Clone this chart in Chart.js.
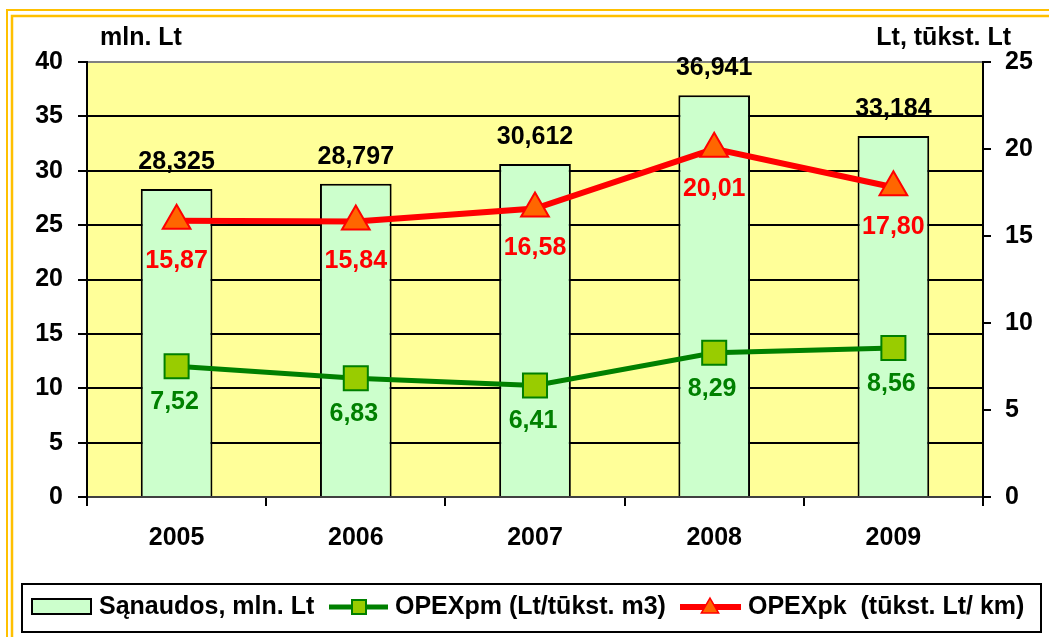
<!DOCTYPE html>
<html>
<head>
<meta charset="utf-8">
<script src="https://cdn.jsdelivr.net/npm/chart.js@4.4.1/dist/chart.umd.min.js"></script>
<style>
    html, body { margin: 0; padding: 0; background: #fff; }
    #wrap { width: 1049px; height: 637px; }
</style>
</head>
<body>
<div id="wrap"><canvas id="opexChart" width="1049" height="637"></canvas></div>
<script>
// Data
const years = ['2005', '2006', '2007', '2008', '2009'];
const costs = [28.325, 28.797, 30.612, 36.941, 33.184];
const opexPm = [7.52, 6.83, 6.41, 8.29, 8.56];
const opexPk = [15.87, 15.84, 16.58, 20.01, 17.80];
const seriesNames = ['Sąnaudos, mln. Lt', 'OPEXpm (Lt/tūkst. m3)', 'OPEXpk  (tūkst. Lt/ km)'];
const leftTitle = 'mln. Lt';
const rightTitle = 'Lt, tūkst. Lt';

const FONT = '"Liberation Sans", Arial, sans-serif';
const tickFont = { family: FONT, size: 25, weight: 'bold' };

const comma = (v, d) => v.toFixed(d).replace('.', ',');

// Background, gold double frame and yellow plot area
const backdrop = {
    id: 'backdrop',
    beforeDraw(chart) {
        const { ctx, chartArea: a } = chart;
        ctx.save();
        ctx.fillStyle = '#fff';
        ctx.fillRect(0, 0, chart.width, chart.height);
        ctx.strokeStyle = '#FFC000';
        ctx.lineWidth = 2;
        ctx.strokeRect(7, 10, 1100, 700);
        ctx.lineWidth = 2.5;
        ctx.strokeRect(12, 16, 1100, 700);
        ctx.fillStyle = '#FFFF99';
        ctx.fillRect(a.left, a.top, a.right - a.left, a.bottom - a.top);
        ctx.restore();
    }
};

// Value labels next to bars and points
const valueLabels = {
    id: 'valueLabels',
    afterDatasetsDraw(chart) {
        const ctx = chart.ctx;
        ctx.save();
        ctx.font = `bold 25px ${FONT}`;
        ctx.textAlign = 'center';

        ctx.fillStyle = '#000';
        ctx.textBaseline = 'alphabetic';
        chart.getDatasetMeta(0).data.forEach((bar, i) => {
            ctx.fillText(comma(costs[i], 3), bar.x, bar.y - 20);
        });

        ctx.textBaseline = 'middle';
        ctx.fillStyle = '#008000';
        chart.getDatasetMeta(1).data.forEach((pt, i) => {
            ctx.fillText(comma(opexPm[i], 2), pt.x - 2, pt.y + 36);
        });

        ctx.fillStyle = '#FF0000';
        chart.getDatasetMeta(2).data.forEach((pt, i) => {
            ctx.fillText(comma(opexPk[i], 2), pt.x, pt.y + 40);
        });
        ctx.restore();
    }
};

function drawTriangle(ctx, x, y, r) {
    ctx.beginPath();
    ctx.moveTo(x, y - r);
    ctx.lineTo(x + r * 0.866, y + r * 0.5);
    ctx.lineTo(x - r * 0.866, y + r * 0.5);
    ctx.closePath();
}

// Axis titles and the boxed legend at the bottom
const extras = {
    id: 'extras',
    afterDraw(chart) {
        const ctx = chart.ctx;
        const ds = chart.data.datasets;
        ctx.save();

        ctx.font = `bold 25px ${FONT}`;
        ctx.fillStyle = '#000';
        ctx.textBaseline = 'alphabetic';
        ctx.textAlign = 'left';
        ctx.fillText(leftTitle, 100, 45);
        ctx.textAlign = 'right';
        ctx.fillText(rightTitle, 1011, 45);

        // legend frame
        ctx.fillStyle = '#fff';
        ctx.fillRect(22, 584, 1019, 48);
        ctx.strokeStyle = '#000';
        ctx.lineWidth = 2;
        ctx.strokeRect(22, 584, 1019, 48);

        const cy = 607;
        ctx.textAlign = 'left';
        ctx.textBaseline = 'middle';

        // bars
        ctx.fillStyle = ds[0].backgroundColor;
        ctx.fillRect(32, 599, 59, 15);
        ctx.strokeStyle = ds[0].borderColor;
        ctx.lineWidth = 2;
        ctx.strokeRect(32, 599, 59, 15);
        ctx.fillStyle = '#000';
        ctx.fillText(seriesNames[0], 99, cy);

        // green line
        ctx.strokeStyle = ds[1].borderColor;
        ctx.lineWidth = 5;
        ctx.beginPath();
        ctx.moveTo(329, cy);
        ctx.lineTo(388, cy);
        ctx.stroke();
        ctx.fillStyle = ds[1].pointBackgroundColor;
        ctx.lineWidth = 2;
        ctx.fillRect(352, cy - 7, 14, 14);
        ctx.strokeRect(352, cy - 7, 14, 14);
        ctx.fillStyle = '#000';
        ctx.fillText(seriesNames[1], 395, cy);

        // red line
        ctx.strokeStyle = ds[2].borderColor;
        ctx.lineWidth = 6;
        ctx.beginPath();
        ctx.moveTo(680, cy);
        ctx.lineTo(741, cy);
        ctx.stroke();
        ctx.fillStyle = ds[2].pointBackgroundColor;
        ctx.lineWidth = 1.5;
        drawTriangle(ctx, 710, cy + 1, 10);
        ctx.fill();
        ctx.stroke();
        ctx.fillStyle = '#000';
        ctx.fillText(seriesNames[2], 748, cy);

        ctx.restore();
    }
};

new Chart(document.getElementById('opexChart'), {
    data: {
        labels: years,
        datasets: [
            {
                type: 'bar',
                label: seriesNames[0],
                data: costs,
                yAxisID: 'y',
                backgroundColor: '#CCFFCC',
                borderColor: '#000',
                borderWidth: 2,
                categoryPercentage: 1,
                barPercentage: 0.4,
                order: 3
            },
            {
                type: 'line',
                label: seriesNames[1],
                data: opexPm,
                yAxisID: 'y1',
                borderColor: '#008000',
                borderWidth: 5,
                pointStyle: 'rect',
                pointRadius: 17,
                pointBackgroundColor: '#99CC00',
                pointBorderColor: '#008000',
                pointBorderWidth: 2,
                order: 2
            },
            {
                type: 'line',
                label: seriesNames[2],
                data: opexPk,
                yAxisID: 'y1',
                borderColor: '#FF0000',
                borderWidth: 6,
                pointStyle: 'triangle',
                pointRadius: 16,
                pointBackgroundColor: '#FF6600',
                pointBorderColor: '#FF0000',
                pointBorderWidth: 2,
                order: 1
            }
        ]
    },
    options: {
        responsive: false,
        animation: false,
        devicePixelRatio: 1,
        layout: { padding: { top: 62, bottom: 80, left: 0, right: 0 } },
        plugins: {
            legend: { display: false },
            tooltip: { enabled: false }
        },
        scales: {
            x: {
                offset: true,
                grid: { offset: true, drawOnChartArea: false, tickLength: 9, color: '#000', lineWidth: 2 },
                border: { color: '#404040', width: 2 },
                ticks: { color: '#000', font: tickFont, padding: 17 },
                afterFit: s => { s.height = 60; }
            },
            y: {
                position: 'left',
                min: 0,
                max: 40,
                ticks: { stepSize: 5, color: '#000', font: tickFont, padding: 15 },
                grid: {
                    color: c => (c.tick && c.tick.value === 40 ? '#808080' : '#000'),
                    lineWidth: 2,
                    tickLength: 9,
                    tickColor: '#000',
                    tickWidth: 2
                },
                border: { color: '#000', width: 2 },
                afterFit: s => { s.width = 87; }
            },
            y1: {
                position: 'right',
                min: 0,
                max: 25,
                ticks: { stepSize: 5, color: '#000', font: tickFont, padding: 14 },
                grid: { drawOnChartArea: false, tickLength: 8, color: '#000', lineWidth: 2 },
                border: { color: '#000', width: 2 },
                afterFit: s => { s.width = 66; }
            }
        }
    },
    plugins: [backdrop, valueLabels, extras]
});
</script>
</body>
</html>
